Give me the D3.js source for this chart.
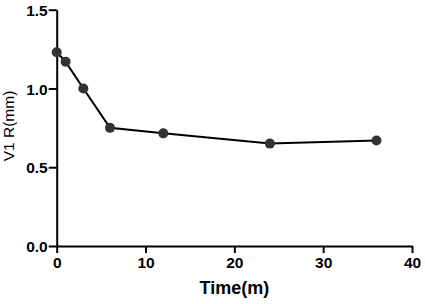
<!DOCTYPE html>
<html>
<head>
<meta charset="utf-8">
<script src="https://cdn.jsdelivr.net/npm/d3@7"></script>
<style>
  body { margin: 0; background: #fff; }
  svg { display: block; }
</style>
</head>
<body>
<div id="chart"></div>
<script>
(function() {
    var times = [0, 1, 3, 6, 12, 24, 36];
    var values = [1.23, 1.17, 1.0, 0.75, 0.715, 0.65, 0.67];
    var xTicks = [0, 10, 20, 30, 40];
    var yTicks = [0.0, 0.5, 1.0, 1.5];

    var width = 425,
        height = 304;

    var margin = {left: 56.7, right: 13, top: 9.7, bottom: 58};

    var svg = d3.select("#chart")
        .append("svg")
        .attr("width", width)
        .attr("height", height)

    var x = d3.scaleLinear().domain([0, 40]).range([margin.left, width - margin.right])
    var y = d3.scaleLinear().domain([0, 1.5]).range([height - margin.bottom, margin.top])

    var xAxis = svg.append("g")
        .attr("transform", "translate(0," + y(0) + ")")
        .call(d3.axisBottom(x).tickValues(xTicks).tickSize(7).tickSizeOuter(0).tickFormat(d3.format("d")))

    var yAxis = svg.append("g")
        .attr("transform", "translate(" + x(0) + ",0)")
        .call(d3.axisLeft(y).tickValues(yTicks).tickSize(8).tickSizeOuter(0).tickFormat(d3.format(".1f")))

    svg.selectAll(".domain, .tick line")
        .attr("stroke", "#000")
        .attr("stroke-width", 2)
    svg.selectAll(".tick text")
        .attr("fill", "#000")
        .style("font-family", "'Liberation Sans', Arial, sans-serif")
        .style("font-weight", "bold")
        .style("font-size", "15.5px")
    xAxis.selectAll(".tick text").attr("dy", "0.75em").attr("y", 10)
    yAxis.selectAll(".tick text").attr("x", -9).attr("dy", "0.36em")

    svg.append("text")
        .attr("x", (x(0) + x(40)) / 2)
        .attr("y", 294)
        .attr("text-anchor", "middle")
        .style("font-family", "'Liberation Sans', Arial, sans-serif")
        .style("font-weight", "bold")
        .style("font-size", "18px")
        .text("Time(m)")

    svg.append("text")
        .attr("transform", "translate(14,126) rotate(-90)")
        .attr("text-anchor", "middle")
        .style("font-family", "'Liberation Sans', Arial, sans-serif")
        .style("font-size", "15.5px")
        .text("V1 R(mm)")

    var data = times.map(function(t, i) { return {t: t, v: values[i]} })

    var line = d3.line()
        .x(function(d) { return x(d.t) })
        .y(function(d) { return y(d.v) })

    svg.append("path")
        .datum(data)
        .attr("d", line)
        .attr("fill", "none")
        .attr("stroke", "#000")
        .attr("stroke-width", 2)

    svg.selectAll(".pt")
        .data(data)
        .enter().append("circle")
        .attr("class", "pt")
        .attr("cx", function(d) { return x(d.t) })
        .attr("cy", function(d) { return y(d.v) })
        .attr("r", 5)
        .attr("fill", "#333")
})();
</script>
</body>
</html>
